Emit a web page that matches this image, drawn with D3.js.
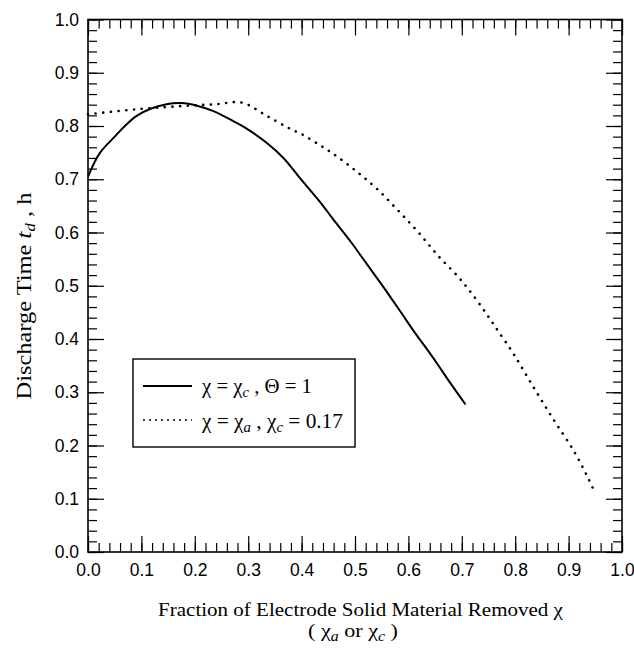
<!DOCTYPE html>
<html><head><meta charset="utf-8">
<script src="https://cdn.jsdelivr.net/npm/d3@7"></script>
<style>body{margin:0;background:#fff}svg{display:block}</style>
</head><body>
<script>
// Data
const solidX = [0.000,0.022,0.051,0.069,0.091,0.116,0.147,0.175,0.204,0.235,0.272,0.297,0.335,0.366,0.397,0.434,0.459,0.491,0.522,0.553,0.584,0.612,0.631,0.653,0.678,0.707];
const solidY = [0.705,0.749,0.781,0.800,0.819,0.832,0.841,0.843,0.838,0.828,0.809,0.795,0.768,0.740,0.702,0.658,0.625,0.584,0.541,0.498,0.453,0.412,0.386,0.355,0.318,0.277];
const dotX = [0.000,0.097,0.185,0.241,0.288,0.335,0.378,0.403,0.431,0.459,0.500,0.541,0.581,0.619,0.656,0.693,0.719,0.747,0.768,0.797,0.834,0.871,0.909,0.934,0.950];
const dotY = [0.822,0.832,0.838,0.841,0.844,0.819,0.795,0.783,0.766,0.748,0.717,0.682,0.641,0.600,0.556,0.517,0.485,0.446,0.415,0.372,0.310,0.250,0.191,0.144,0.110];
const xTicks = [0,0.1,0.2,0.3,0.4,0.5,0.6,0.7,0.8,0.9,1.0];
const yTicks = [0,0.1,0.2,0.3,0.4,0.5,0.6,0.7,0.8,0.9,1.0];

const W=634,H=648;
const svg=d3.select("body").append("svg").attr("width",W).attr("height",H);
const L=88,R=622,T=19.5,B=552;
const x=d3.scaleLinear().domain([0,1]).range([L,R]);
const y=d3.scaleLinear().domain([0,1]).range([B,T]);
const minor=d3.range(0,1.0001,0.02);

const sans="'Liberation Sans', Arial, sans-serif";
const serif="'Liberation Serif', 'Times New Roman', serif";

function styleAxis(g){
  g.select(".domain").remove();
  g.selectAll("line").attr("stroke","#000").attr("stroke-width",1.2);
  g.selectAll("text").attr("font-family",sans).attr("font-size",17.5).attr("fill","#000");
}
const fmt=d3.format(".1f");
// minor ticks
svg.append("g").attr("transform",`translate(0,${B})`).call(d3.axisTop(x).tickValues(minor).tickSize(9).tickFormat("")).call(styleAxis);
svg.append("g").attr("transform",`translate(0,${T})`).call(d3.axisBottom(x).tickValues(minor).tickSize(9).tickFormat("")).call(styleAxis);
svg.append("g").attr("transform",`translate(${L},0)`).call(d3.axisRight(y).tickValues(minor).tickSize(9).tickFormat("")).call(styleAxis);
svg.append("g").attr("transform",`translate(${R},0)`).call(d3.axisLeft(y).tickValues(minor).tickSize(9).tickFormat("")).call(styleAxis);
// major ticks
svg.append("g").attr("transform",`translate(0,${B})`).call(d3.axisTop(x).tickValues(xTicks).tickSize(16).tickFormat("")).call(styleAxis);
svg.append("g").attr("transform",`translate(0,${T})`).call(d3.axisBottom(x).tickValues(xTicks).tickSize(16).tickFormat("")).call(styleAxis);
svg.append("g").attr("transform",`translate(${L},0)`).call(d3.axisRight(y).tickValues(yTicks).tickSize(16).tickFormat("")).call(styleAxis);
svg.append("g").attr("transform",`translate(${R},0)`).call(d3.axisLeft(y).tickValues(yTicks).tickSize(16).tickFormat("")).call(styleAxis);
// tick labels
svg.append("g").attr("transform",`translate(0,${B})`).call(d3.axisBottom(x).tickValues(xTicks).tickSize(0).tickPadding(12).tickFormat(fmt)).call(styleAxis);
svg.append("g").attr("transform",`translate(${L},0)`).call(d3.axisLeft(y).tickValues(yTicks).tickSize(0).tickPadding(9).tickFormat(fmt)).call(styleAxis);

// frame
svg.append("rect").attr("x",L).attr("y",T).attr("width",R-L).attr("height",B-T)
  .attr("fill","none").attr("stroke","#000").attr("stroke-width",1.6);

// lines
const mk=(xs,ys)=>xs.map((v,i)=>[v,ys[i]]);
const line=d3.line().x(d=>x(d[0])).y(d=>y(d[1])).curve(d3.curveCatmullRom);
svg.append("path").datum(mk(solidX,solidY)).attr("d",line).attr("fill","none").attr("stroke","#000").attr("stroke-width",2);
svg.append("path").datum(mk(dotX,dotY)).attr("d",line).attr("fill","none").attr("stroke","#000")
  .attr("stroke-width",2.6).attr("stroke-linecap","round").attr("stroke-dasharray","0.1,7.6");

// helper: stretch text horizontally to a target width
function fit(sel, target){
  const w=sel.node().getComputedTextLength();
  return target/w;
}
function sub(t,s){ t.append("tspan").attr("font-size",14).attr("font-style","italic").attr("dy",4).text(s); }

// legend
const lg=svg.append("g");
lg.append("rect").attr("x",133).attr("y",359).attr("width",222).attr("height",88).attr("fill","#fff").attr("stroke","#000").attr("stroke-width",1.4);
lg.append("line").attr("x1",143).attr("x2",192).attr("y1",386).attr("y2",386).attr("stroke","#000").attr("stroke-width",1.8);
lg.append("line").attr("x1",143).attr("x2",192).attr("y1",420).attr("y2",420).attr("stroke","#000").attr("stroke-width",1.6).attr("stroke-dasharray","2,4");
function legendText(yb, build, target){
  const g=lg.append("g");
  const t=g.append("text").attr("x",0).attr("y",0).attr("font-family",serif).attr("font-size",20);
  build(t);
  const s=fit(t,target);
  g.attr("transform",`translate(202,${yb}) scale(${s},1)`);
}
legendText(393, t=>{ t.append("tspan").text("χ = χ"); sub(t,"c"); t.append("tspan").attr("dy",-4).text(" , Θ = 1"); }, 110);
legendText(428, t=>{ t.append("tspan").text("χ = χ"); sub(t,"a"); t.append("tspan").attr("dy",-4).text(" , χ"); sub(t,"c"); t.append("tspan").attr("dy",-4).text(" = 0.17"); }, 141);

// axis titles
function centered(cx, yb, size, build, target, rotate){
  const g=svg.append("g");
  const t=g.append("text").attr("x",0).attr("y",0).attr("text-anchor","middle").attr("font-family",serif).attr("font-size",size);
  build(t);
  const s=fit(t,target);
  g.attr("transform", rotate ? `translate(${cx},${yb}) rotate(-90) scale(${s},1)` : `translate(${cx},${yb}) scale(${s},1)`);
}
centered(360.5, 616, 19.5, t=>t.text("Fraction of Electrode Solid Material Removed χ"), 405);
centered(353, 637, 19.5, t=>{ t.append("tspan").text("( χ"); sub(t,"a"); t.append("tspan").attr("dy",-4).text(" or χ"); sub(t,"c"); t.append("tspan").attr("dy",-4).text(" )"); }, 90);
centered(31, 296, 20.5, t=>{
  t.append("tspan").text("Discharge Time ");
  t.append("tspan").attr("font-style","italic").attr("font-size",22).text("t");
  t.append("tspan").attr("font-style","italic").attr("font-size",14).attr("dy",4).text("d");
  t.append("tspan").attr("dy",-4).text(" , h");
}, 207, true);
</script>
</body></html>
